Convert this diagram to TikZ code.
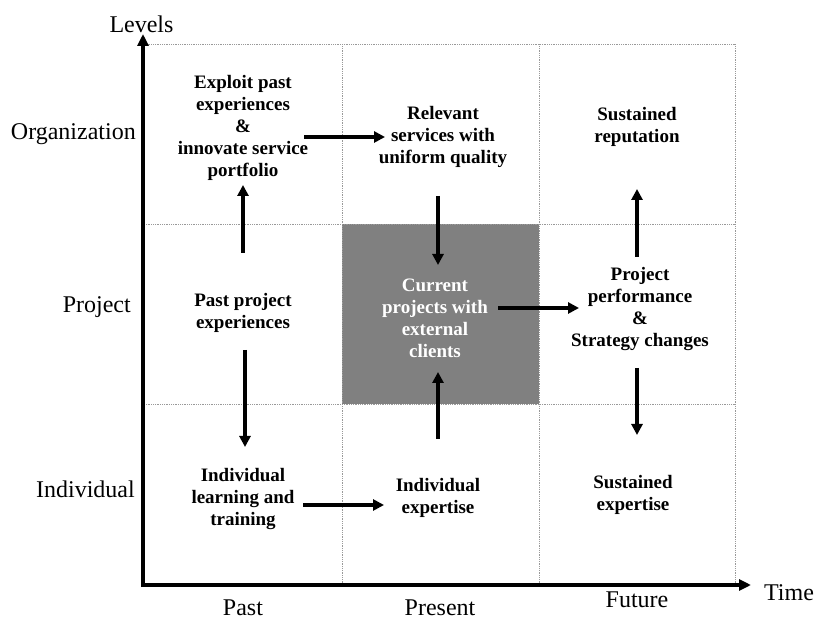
\documentclass[tikz,border=0pt]{standalone}
\usepackage{fontspec}
\setmainfont{Liberation Serif}
\usetikzlibrary{arrows.meta}
\begin{document}
\begin{tikzpicture}[x=1pt,y=1pt,
  axislabel/.style={font=\fontsize{24}{27}\selectfont, inner sep=0pt},
  cell/.style={font=\bfseries\fontsize{19}{22}\selectfont, align=center, inner sep=0pt},
  whitecell/.style={cell, text=white},
  grid/.style={densely dotted, draw=black!40, line width=0.8pt},
  axis/.style={line width=4pt, -{Triangle[length=12pt,width=11pt]}},
  conn/.style={line width=3.8pt, -{Triangle[length=11pt,width=11pt]}}
]
\useasboundingbox (0,0) rectangle (816,621);
% grey cell
\fill[black!50] (342,217) rectangle (539,397);
% grid
\draw[grid] (144,577) -- (735,577);
\draw[grid] (144,397) -- (735,397);
\draw[grid] (144,217) -- (735,217);
\draw[grid] (342,36) -- (342,577);
\draw[grid] (539,36) -- (539,577);
\draw[grid] (735,36) -- (735,577);
% axes
\coordinate (origin) at (143,36);
\coordinate (ytip) at (143,587);
\coordinate (xtip) at (751,36);
\draw[axis] ([xshift=-2pt]origin) -- (xtip);
\draw[axis] ([yshift=-2pt]origin) -- (ytip);
% axis labels
\node[axislabel] (levels) at (141.5,597) {Levels};
\node[axislabel] (time) at (789,28) {Time};
\node[axislabel, anchor=mid east] (org) at (136,484) {Organization};
\node[axislabel, anchor=mid east] (proj) at (131,311) {Project};
\node[axislabel, anchor=mid east] (indiv) at (135,126) {Individual};
\node[axislabel, anchor=mid] (past) at (243,8) {Past};
\node[axislabel, anchor=mid] (present) at (440,8) {Present};
\node[axislabel, anchor=mid] (future) at (637,16) {Future};
% cell texts
\node[cell] (exploit) at (243,493) {Exploit past\\experiences\\\&\\innovate service\\portfolio};
\node[cell] (relevant) at (443,484) {Relevant\\services with\\uniform quality};
\node[cell] (sustrep) at (637,494) {Sustained\\reputation};
\node[cell] (pastproj) at (243,308.5) {Past project\\experiences};
\node[whitecell] (current) at (435,303) {Current\\projects with\\external\\clients};
\node[cell] (projperf) at (640,311.5) {Project\\performance\\\&\\Strategy changes};
\node[cell] (indlearn) at (243,122) {Individual\\learning and\\training};
\node[cell] (indexp) at (438,123) {Individual\\expertise};
\node[cell] (susexp) at (633,126) {Sustained\\expertise};
% connectors
\draw[conn] ([shift={(61,-9)}]exploit.center) -- ([shift={(-58,0)}]relevant.center);
\draw[conn] ([shift={(0,59.5)}]pastproj.center) -- ([shift={(0,-57)}]exploit.center);
\draw[conn] ([shift={(-5,-59)}]relevant.center) -- ([shift={(3,53)}]current.center);
\draw[conn] ([shift={(63,10)}]current.center) -- ([shift={(-61,1.5)}]projperf.center);
\draw[conn] ([shift={(0,59)}]indexp.center) -- ([shift={(3,-54)}]current.center);
\draw[conn] ([shift={(2,-37.5)}]pastproj.center) -- ([shift={(2,52)}]indlearn.center);
\draw[conn] ([shift={(60,-6)}]indlearn.center) -- ([shift={(-54,-7)}]indexp.center);
\draw[conn] ([shift={(-3,-58.5)}]projperf.center) -- ([shift={(4,60)}]susexp.center);
\draw[conn] ([shift={(-3,52.5)}]projperf.center) -- ([shift={(0,-62)}]sustrep.center);
\end{tikzpicture}
\end{document}
